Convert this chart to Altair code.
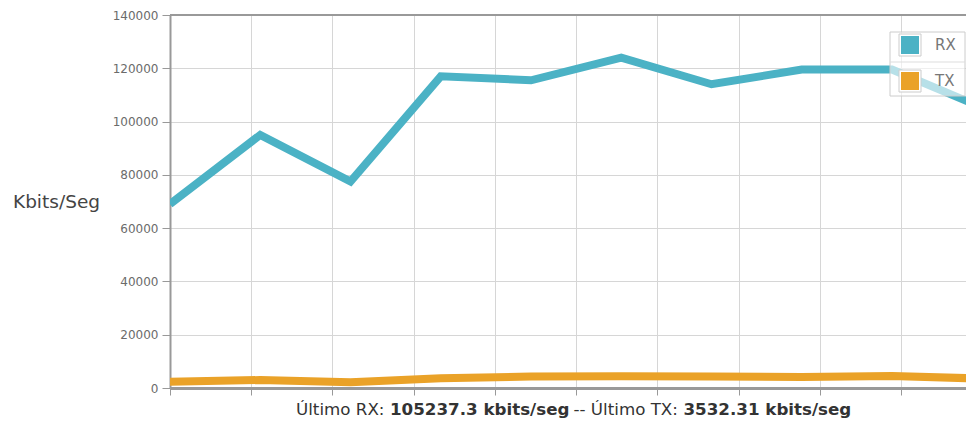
import altair as alt
import pandas as pd

# ---- data ----
x_index = [0, 1, 2, 3, 4, 5, 6, 7, 8, 9]
rx_values = [69000, 95000, 77500, 117000, 115500, 124000, 114000, 119500, 119500, 105237.3]
tx_values = [2300, 3000, 2200, 3700, 4300, 4400, 4300, 4100, 4500, 3532.31]
series_names = ["RX", "TX"]
series_colors = ["#4bb2c5", "#eaa228"]
x_ticks = [0, 0.9, 1.8, 2.7, 3.6, 4.5, 5.4, 6.3, 7.2, 8.1, 9.0]
y_ticks = [0, 20000, 40000, 60000, 80000, 100000, 120000, 140000]
y_title = "Kbits/Seg"
footer_parts = ["Último RX:", "105237.3 kbits/seg", "-- Último TX:", "3532.31 kbits/seg"]
footer_bold = [False, True, False, True]

rows = []
for i, v in zip(x_index, rx_values):
    rows.append({"t": i, "v": v, "s": series_names[0]})
for i, v in zip(x_index, tx_values):
    rows.append({"t": i, "v": v, "s": series_names[1]})
df = pd.DataFrame(rows)

W, H = 796, 373          # visible part of the plot (it runs past the right edge)
X_MAX = 8.82             # visible part of the 0..9 x range

color_scale = alt.Scale(domain=series_names, range=series_colors)

lines = alt.Chart(df).mark_line(strokeWidth=8, clip=True).encode(
    x=alt.X("t:Q", scale=alt.Scale(domain=[0, X_MAX], nice=False, zero=False),
            axis=alt.Axis(values=x_ticks, labels=False, title=None, grid=True,
                          gridColor="#d6d6d6", tickColor="#999999", tickSize=7,
                          tickWidth=1, domain=True, domainColor="#999999", domainWidth=3)),
    y=alt.Y("v:Q", scale=alt.Scale(domain=[0, 140000], nice=False),
            axis=alt.Axis(values=y_ticks, format="d", title=y_title, grid=True,
                          gridColor="#d6d6d6", tickColor="#999999", tickSize=8,
                          labelPadding=4, labelColor="#6b6b6b", labelFontSize=12,
                          labelFont="DejaVu Sans", domain=True, domainColor="#999999",
                          domainWidth=2, titleAngle=0, titleX=-114, titleY=186,
                          titleAlign="center", titleBaseline="middle",
                          titleFontSize=18.5, titleFontWeight="normal",
                          titleFont="DejaVu Sans", titleColor="#444444")),
    color=alt.Color("s:N", scale=color_scale, legend=None),
    detail="s:N",
)

one = pd.DataFrame({"k": [0]})

top_border = alt.Chart(one).mark_rule(color="#999999", strokeWidth=2).encode(
    x=alt.value(0), x2=alt.value(W), y=alt.value(0))

# legend box drawn like the reference's inside legend
lx0, lx1, ly0, ly1 = 720, 795, 17, 81
legend_layers = [
    alt.Chart(one).mark_rect(fill="white", fillOpacity=0.6, stroke="#cccccc", strokeWidth=1).encode(
        x=alt.value(lx0), x2=alt.value(lx1), y=alt.value(ly0), y2=alt.value(ly1)),
    alt.Chart(one).mark_rule(color="#dddddd", strokeWidth=1).encode(
        x=alt.value(lx0), x2=alt.value(lx1), y=alt.value(47)),
]
for k, (name, col) in enumerate(zip(series_names, series_colors)):
    top = 21 + 36 * k
    legend_layers.append(
        alt.Chart(one).mark_rect(fill="white", stroke="#cccccc", strokeWidth=1).encode(
            x=alt.value(729), x2=alt.value(751), y=alt.value(top - 2), y2=alt.value(top + 20)))
    legend_layers.append(
        alt.Chart(one).mark_rect(fill=col).encode(
            x=alt.value(731), x2=alt.value(749), y=alt.value(top), y2=alt.value(top + 18)))
    legend_layers.append(
        alt.Chart(one).mark_text(text=name, align="left", baseline="middle", fontSize=15,
                                 font="DejaVu Sans", color="#777777").encode(
            x=alt.value(765), y=alt.value(top + 9)))

# footer (x-axis label) with mixed weights
footer_x = [126, 220, 403.5, 513.5]
footer_layers = []
for txt, b, fx in zip(footer_parts, footer_bold, footer_x):
    footer_layers.append(
        alt.Chart(one).mark_text(text=txt, align="left", baseline="alphabetic", fontSize=16.7,
                                 font="DejaVu Sans", fontWeight="bold" if b else "normal",
                                 color="#333333").encode(
            x=alt.value(fx), y=alt.value(400)))

chart = alt.layer(lines, top_border, *legend_layers, *footer_layers).properties(
    width=W, height=H,
    autosize=alt.AutoSizeParams(type="none"),
    padding={"left": 162, "top": 7, "right": 0, "bottom": 30},
).configure_view(
    fill="#fffdf6", stroke=None
).configure(background="white")

chart.save("out.html", embed_options={"renderer": "svg", "actions": False})
